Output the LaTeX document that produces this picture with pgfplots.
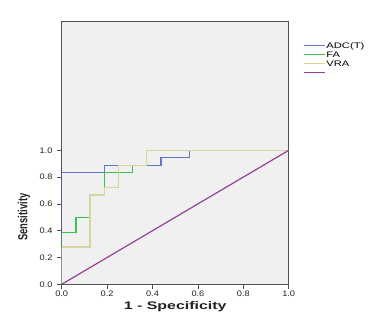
\documentclass[border=0pt]{standalone}
\usepackage{graphicx}
\usepackage{pgfplots}
\pgfplotsset{compat=1.18}
\usepackage{fontspec}
\setmainfont{Liberation Sans}
\definecolor{adc}{HTML}{6078C8}
\definecolor{fa}{HTML}{3CC050}
\definecolor{vra}{HTML}{D8D49E}
\definecolor{refc}{HTML}{944294}
\definecolor{bg}{HTML}{F0F0F0}
\definecolor{frame}{HTML}{505050}
\definecolor{txt}{HTML}{222222}
\newcommand\tkl[1]{\scalebox{1.15}[1]{#1}}
\newcommand\lgx[1]{\scalebox{1.4}[1]{#1}}
\begin{document}
\begin{tikzpicture}
\useasboundingbox (-61.7pt,-33.7pt) rectangle (326.3pt,284.3pt);
\begin{axis}[
  at={(0pt,0pt)}, anchor=south west,
  scale only axis, width=227pt, height=262.6pt,
  xmin=0, xmax=1, ymin=0, ymax=1.96,
  axis background/.style={fill=bg},
  axis line style={frame, line width=0.9pt},
  tick pos=left, tick align=outside,
  major tick length=5pt,
  tick style={frame, line width=0.7pt},
  xtick={0,0.2,0.4,0.6,0.8,1},
  xticklabels={\tkl{0.0},\tkl{0.2},\tkl{0.4},\tkl{0.6},\tkl{0.8},\tkl{1.0}},
  ytick={0,0.2,0.4,0.6,0.8,1},
  yticklabels={\tkl{0.0},\tkl{0.2},\tkl{0.4},\tkl{0.6},\tkl{0.8},\tkl{1.0}},
  xticklabel style={font=\fontsize{8}{9}\selectfont\color{txt}, inner sep=0pt, yshift=-1pt},
  yticklabel style={font=\fontsize{8}{9}\selectfont\color{txt}, inner sep=0pt, xshift=-4pt},
  xlabel={\scalebox{1.45}[1]{1 - Specificity}},
  xlabel style={font=\bfseries\fontsize{11}{12}\selectfont\color{txt}, at={(axis description cs:0.5,0)}, anchor=center, yshift=-22.4pt},
  ylabel={\scalebox{1}[1.4]{Sensitivity}},
  ylabel style={font=\bfseries\fontsize{9.4}{10}\selectfont\color{txt}, at={(axis description cs:-0.166,0.256)}, anchor=center},
  legend style={at={(rel axis cs:1.063,0.9246)}, anchor=north west, draw=none, fill=none,
    font=\fontsize{8}{9}\selectfont, inner sep=0pt, row sep=1.2pt,
    nodes={inner sep=1pt, text height=5.8pt, text depth=0pt, anchor=west}},
  legend cell align=left,
  legend image code/.code={\draw[#1, line width=1.2pt] (0pt,0pt) -- (21pt,0pt);},
]
\addplot[adc, line width=1.3pt] coordinates {(0,0)(0,0.8333)(0.1875,0.8333)(0.1875,0.8889)(0.4375,0.8889)(0.4375,0.9444)(0.5625,0.9444)(0.5625,1)(1,1)};
\addlegendentry{\lgx{ADC(T)}}
\addplot[fa, line width=1.3pt] coordinates {(0,0)(0,0.3889)(0.0625,0.3889)(0.0625,0.5)(0.125,0.5)(0.125,0.6667)(0.1875,0.6667)(0.1875,0.8333)(0.3125,0.8333)(0.3125,0.8889)(0.375,0.8889)(0.375,1)(1,1)};
\addlegendentry{\lgx{FA}}
\addplot[vra, line width=1.3pt] coordinates {(0,0)(0,0.2778)(0.125,0.2778)(0.125,0.6667)(0.1875,0.6667)(0.1875,0.7222)(0.25,0.7222)(0.25,0.8889)(0.375,0.8889)(0.375,1)(1,1)};
\addlegendentry{\lgx{VRA}}
\addplot[refc, line width=1.2pt] coordinates {(0,0)(1,1)};
\addlegendentry{}
\end{axis}
\end{tikzpicture}
\end{document}
